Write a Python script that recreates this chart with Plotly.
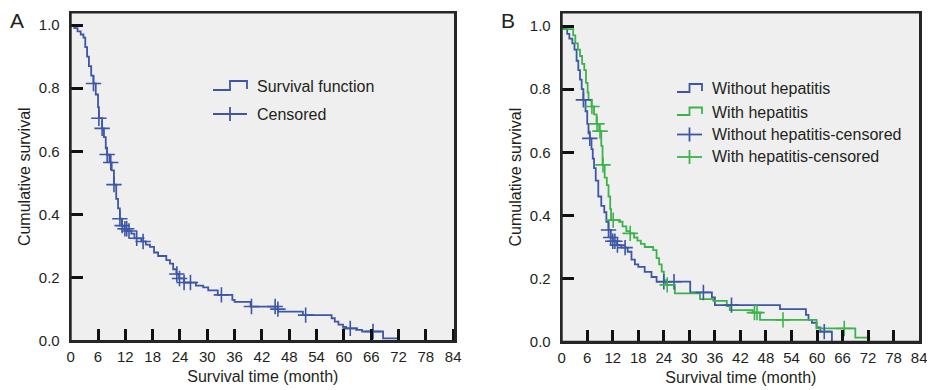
import plotly.graph_objects as go

# ---------------- Data ----------------
# Panel A: all patients (Kaplan-Meier step points)
a_time = [0, 0.8, 1.5, 2.2, 2.8, 3.2, 3.6, 4.0, 4.5, 5.0,
          5.5, 6.0, 6.2, 6.9, 7.3, 7.7, 8.0, 8.5, 9.0, 9.5,
          10.0, 10.4, 10.8, 11.2, 11.8, 12.5, 13.3, 14.0, 15.5, 16.5,
          17.4, 18.3, 19.2, 21.0, 21.8, 22.5, 23.2, 23.8, 24.9, 27.5,
          29.1, 30.2, 32.3, 35.5, 36.0, 39.5, 45.5, 51.0, 57.3, 58.0,
          58.8, 59.8, 60.5, 62.7, 64.0, 68.6, 72.2]
a_surv = [1.0, 0.99, 0.98, 0.97, 0.96, 0.93, 0.90, 0.87, 0.84, 0.815,
          0.78, 0.74, 0.705, 0.673, 0.645, 0.61, 0.59, 0.565, 0.54, 0.495,
          0.45, 0.42, 0.387, 0.365, 0.355, 0.348, 0.34, 0.325, 0.315, 0.305,
          0.298, 0.28, 0.269, 0.256, 0.245, 0.227, 0.212, 0.198, 0.185, 0.175,
          0.17, 0.16, 0.146, 0.13, 0.124, 0.109, 0.093, 0.082, 0.072, 0.061,
          0.052, 0.045, 0.04, 0.035, 0.03, 0.008, 0.008]
a_cens_time = [5.0, 6.2, 6.9, 8.0, 8.8, 9.5, 10.8, 11.3, 11.9, 12.3, 12.8, 14.5,
               15.9, 23.3, 23.9, 24.9, 26.3, 33.1, 39.7, 44.9, 45.5, 51.6, 61.4, 66.4]
a_cens_surv = [0.815, 0.705, 0.673, 0.59, 0.565, 0.495, 0.387, 0.365, 0.355, 0.355, 0.348, 0.325,
               0.315, 0.212, 0.198, 0.185, 0.185, 0.146, 0.109, 0.109, 0.101, 0.082, 0.04, 0.03]

# Panel B: without hepatitis (blue)
bwo_time = [0, 0.7, 1.3, 1.8, 2.5, 3.0, 3.5, 3.9, 4.3, 4.7,
            5.1, 5.6, 6.0, 6.3, 6.6, 7.0, 7.3, 7.6, 8.0, 8.6,
            9.3, 10.0, 10.5, 11.0, 11.5, 12.0, 13.0, 14.0, 15.5, 16.4,
            17.2, 18.0, 19.5, 21.1, 22.3, 30.2, 35.3, 36.0, 51.3, 57.4,
            58.0, 58.8, 59.9, 60.8, 63.5]
bwo_surv = [1.0, 0.99, 0.975, 0.96, 0.945, 0.925, 0.89, 0.86, 0.83, 0.80,
            0.766, 0.73, 0.69, 0.66, 0.644, 0.61, 0.58, 0.55, 0.51, 0.46,
            0.43, 0.41, 0.38, 0.354, 0.33, 0.318, 0.306, 0.298, 0.285, 0.26,
            0.245, 0.237, 0.221, 0.205, 0.19, 0.156, 0.14, 0.116, 0.103, 0.085,
            0.069, 0.06, 0.045, 0.032, 0.0]
bwo_cens_time = [5.1, 6.6, 11.0, 11.5, 12.0, 12.5, 13.1, 14.9, 24.0, 26.4, 33.3, 39.9, 61.7]
bwo_cens_surv = [0.766, 0.644, 0.354, 0.33, 0.318, 0.318, 0.306, 0.298, 0.19, 0.19, 0.156, 0.116, 0.032]

# Panel B: with hepatitis (green)
bw_time = [0, 0.3, 2.7, 3.2, 3.8, 4.3, 4.8, 5.3, 5.7, 6.1,
           6.3, 7.0, 7.6, 8.2, 8.8, 9.3, 9.6, 10.1, 10.6, 11.0,
           11.4, 11.6, 13.5, 14.3, 15.2, 16.0, 17.0, 17.8, 18.6, 19.5,
           21.5, 22.3, 22.9, 23.5, 24.0, 24.5, 26.6, 32.5, 35.6, 38.8,
           39.5, 44.9, 46.6, 59.9, 69.0, 72.5]
bw_surv = [1.0, 0.99, 0.97, 0.945, 0.925, 0.905, 0.88, 0.86, 0.82, 0.79,
           0.766, 0.745, 0.72, 0.69, 0.667, 0.62, 0.56, 0.52, 0.496, 0.46,
           0.42, 0.385, 0.38, 0.365, 0.35, 0.343, 0.33, 0.32, 0.31, 0.30,
           0.29, 0.265, 0.245, 0.222, 0.195, 0.18, 0.153, 0.135, 0.129, 0.113,
           0.10, 0.092, 0.069, 0.042, 0.013, 0.013]
bw_cens_time = [7.1, 8.3, 9.0, 9.7, 12.1, 16.1, 24.8, 45.3, 45.9, 52.0, 66.4]
bw_cens_surv = [0.745, 0.69, 0.667, 0.56, 0.385, 0.343, 0.18, 0.092, 0.092, 0.069, 0.042]

x_ticks = list(range(0, 85, 6))
y_ticks = [0.0, 0.2, 0.4, 0.6, 0.8, 1.0]
y_tick_text = ["0.0", "0.2", "0.4", "0.6", "0.8", "1.0"]

legend_a = ["Survival function", "Censored"]
legend_b = ["Without hepatitis", "With hepatitis",
            "Without hepatitis-censored", "With hepatitis-censored"]

# ---------------- Style ----------------
# The page body has an 8px default margin: the figure is offset by it.
OFF = 8
W, H = 935 - OFF, 390 - OFF
BLUE = "#3d56a6"
GREEN = "#3cb34a"
TXT = "#231f20"
FONT = "Liberation Sans, Arial, Helvetica, sans-serif"
LW = 1.8
FRAME = "#262626"


def px(x):
    return (x - OFF) / W


def py(y):
    return 1 - (y - OFF) / H


fig = go.Figure()


def add_curve(t, s, color, xa, ya):
    fig.add_trace(go.Scatter(x=t, y=s, mode="lines", line=dict(color=color, width=LW, shape="hv"),
                             xaxis=xa, yaxis=ya, showlegend=False, hoverinfo="skip"))


def add_cens(t, s, color, xa, ya):
    fig.add_trace(go.Scatter(x=t, y=s, mode="markers",
                             marker=dict(symbol="cross-thin", size=11, color=color,
                                         line=dict(color=color, width=1.6)),
                             xaxis=xa, yaxis=ya, showlegend=False, hoverinfo="skip"))


add_curve(a_time, a_surv, BLUE, "x", "y")
add_cens(a_cens_time, a_cens_surv, BLUE, "x", "y")
add_curve(bwo_time, bwo_surv, BLUE, "x2", "y2")
add_curve(bw_time, bw_surv, GREEN, "x2", "y2")
add_cens(bwo_cens_time, bwo_cens_surv, BLUE, "x2", "y2")
add_cens(bw_cens_time, bw_cens_surv, GREEN, "x2", "y2")

axis_common = dict(showgrid=False, zeroline=False, showline=True, mirror=True,
                   linecolor=FRAME, linewidth=2, ticks="inside", ticklen=12,
                   tickwidth=2.5, tickcolor="#111111", automargin=False,
                   tickfont=dict(family=FONT, size=15, color=TXT))

xa = dict(axis_common, tickvals=x_ticks, ticklabelstandoff=1,
          title=dict(text="Survival time (month)", font=dict(family=FONT, size=16, color=TXT), standoff=7))
ya = dict(axis_common, tickvals=y_ticks, ticktext=y_tick_text, ticklabelstandoff=6,
          title=dict(text="Cumulative survival", font=dict(family=FONT, size=16, color=TXT), standoff=4))

TOP = 12.5
fig.update_layout(
    width=W, height=H,
    margin=dict(l=0, r=0, t=0, b=0, pad=0, autoexpand=False),
    paper_bgcolor="white",
    plot_bgcolor="#efefef",
    showlegend=False,
    xaxis=dict(xa, domain=[px(70.7), px(455)], range=[0, 84.4], anchor="y"),
    yaxis=dict(ya, domain=[py(341), py(TOP)], range=[0, (341 - TOP) / 316], anchor="x"),
    xaxis2=dict(xa, domain=[px(561.7), px(920)], range=[0, 84.2], anchor="y2"),
    yaxis2=dict(ya, domain=[py(341.7), py(TOP)], range=[0, (341.7 - TOP) / 315.7], anchor="x2"),
)

shapes = []
annotations = []

# frame of each panel (drawn on top, so the upper edge shows)
for xr, yr in [("x domain", "y domain"), ("x2 domain", "y2 domain")]:
    shapes.append(dict(type="rect", xref=xr, yref=yr, x0=0, x1=1, y0=0, y1=1,
                       line=dict(color=FRAME, width=2), layer="above"))


def step_icon(x0, x1, ylow, yhigh, color):
    xm = (x0 + x1) / 2
    path = (f"M{px(x0)},{py(ylow)} L{px(xm)},{py(ylow)} L{px(xm)},{py(yhigh)} "
            f"L{px(x1)},{py(yhigh)} L{px(x1)},{py(ylow - 1)}")
    shapes.append(dict(type="path", xref="paper", yref="paper", path=path,
                       line=dict(color=color, width=LW)))


def cross_icon(x0, x1, yc, color):
    xm = (x0 + x1) / 2
    shapes.append(dict(type="line", xref="paper", yref="paper", x0=px(x0), x1=px(x1),
                       y0=py(yc), y1=py(yc), line=dict(color=color, width=LW)))
    shapes.append(dict(type="line", xref="paper", yref="paper", x0=px(xm), x1=px(xm),
                       y0=py(yc - 7), y1=py(yc + 7), line=dict(color=color, width=LW)))


def label(x, y, text):
    annotations.append(dict(x=px(x), y=py(y), xref="paper", yref="paper", text=text,
                            showarrow=False, xanchor="left", yanchor="middle",
                            font=dict(family=FONT, size=16, color=TXT)))


# Legend A
step_icon(213, 247, 90, 81, BLUE)
label(255, 86, legend_a[0])
cross_icon(213, 247, 114, BLUE)
label(255, 114, legend_a[1])

# Legend B
step_icon(677, 702, 92, 84, BLUE)
label(710, 89, legend_b[0])
step_icon(677, 702, 115, 107.5, GREEN)
label(710, 112, legend_b[1])
cross_icon(677, 702, 134.5, BLUE)
label(710, 134.5, legend_b[2])
cross_icon(677, 702, 157, GREEN)
label(710, 157, legend_b[3])

# Panel letters
for x, t in [(17, "A"), (508, "B")]:
    annotations.append(dict(x=px(x), y=1, xref="paper", yref="paper", text=t,
                            showarrow=False, xanchor="center", yanchor="top", borderpad=0,
                            font=dict(family=FONT, size=21, color=TXT)))

fig.update_layout(shapes=shapes, annotations=annotations)

fig.write_html("out.html")
